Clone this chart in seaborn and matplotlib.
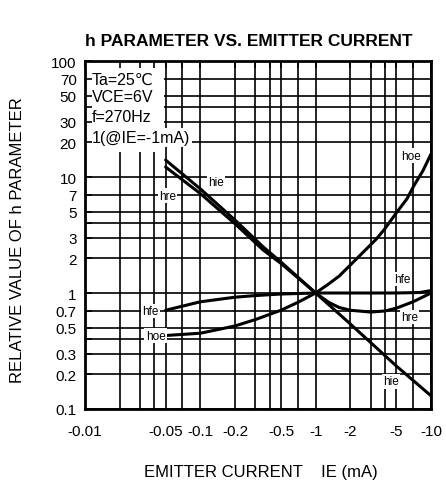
import matplotlib
matplotlib.use("Agg")
import matplotlib.pyplot as plt
import seaborn as sns
from matplotlib.patches import Rectangle
from matplotlib.ticker import FixedLocator, NullFormatter

# |IE| in mA and relative h parameter values (=1 at IE = -1mA)
hie_ie = [0.05, 0.1, 0.2, 0.35, 0.5, 1, 2, 5, 10]
hie_rel = [14, 7.9, 4.25, 2.5, 1.85, 1, 0.54, 0.235, 0.13]

hre_ie = [0.05, 0.1, 0.2, 0.35, 0.5, 1, 1.3, 1.6, 2, 3, 4, 5, 7, 10]
hre_rel = [12.2, 7.2, 3.95, 2.35, 1.8, 1, 0.83, 0.75, 0.71, 0.685, 0.7, 0.74, 0.84, 1.0]

hfe_ie = [0.05, 0.1, 0.2, 0.3, 0.5, 1, 2, 5, 8, 10]
hfe_rel = [0.71, 0.84, 0.92, 0.95, 0.98, 1, 1, 1, 1.01, 1.05]

hoe_ie = [0.05, 0.1, 0.2, 0.3, 0.5, 0.7, 1, 1.3, 1.6, 2.25, 3.36, 4, 5, 6.2, 7.1, 8.5, 10]
hoe_rel = [0.43, 0.45, 0.52, 0.59, 0.71, 0.83, 1, 1.2, 1.4, 1.96, 2.92, 3.6, 4.9, 6.5, 8.4, 11.3, 15.8]

x_ticks = [0.01, 0.05, 0.1, 0.2, 0.5, 1, 2, 5, 10]
x_ticklabels = ["-0.01", "-0.05", "-0.1", "-0.2", "-0.5", "-1", "-2", "-5", "-10"]
y_ticks = [0.1, 0.2, 0.3, 0.5, 0.7, 1, 2, 3, 5, 7, 10, 20, 30, 50, 70, 100]
y_ticklabels = ["0.1", "0.2", "0.3", "0.5", "0.7", "1", "2", "3", "5", "7",
                "10", "20", "30", "50", "70", "100"]
grid_mults = [1, 2, 3, 4, 5, 7]

conditions = ["Ta=25℃", "VCE=6V", "f=270Hz", "1(@IE=-1mA)"]

sns.set_theme(style="white")
plt.rcParams["font.family"] = ["Liberation Sans", "DejaVu Sans"]
plt.rcParams["text.color"] = "black"

fig = plt.figure(figsize=(4.46, 4.89), dpi=100)
ax = fig.add_axes([85 / 446, 1 - 410 / 489, 346 / 446, 348 / 489])
ax.set_xscale("log")
ax.set_yscale("log")
ax.set_xlim(0.01, 10)
ax.set_ylim(0.1, 100)

# grid
gx = [m * 10.0 ** e for e in (-2, -1, 0) for m in grid_mults]
gy = [m * 10.0 ** e for e in (-1, 0, 1) for m in grid_mults]
ax.set_xticks(x_ticks, x_ticklabels)
ax.set_yticks(y_ticks, y_ticklabels)
ax.xaxis.set_minor_locator(FixedLocator(gx))
ax.yaxis.set_minor_locator(FixedLocator(gy))
ax.xaxis.set_minor_formatter(NullFormatter())
ax.yaxis.set_minor_formatter(NullFormatter())
ax.grid(which="both", color="black", lw=1.2)
ax.set_axisbelow(True)
ax.tick_params(which="both", length=0, labelsize=11, colors="black")
ax.tick_params(axis="x", pad=11)
ax.tick_params(axis="y", pad=6)
for s in ax.spines.values():
    s.set_color("black")
    s.set_linewidth(2)

# white area behind the conditions
ax.add_patch(Rectangle((0.0101, 16.5), 0.0485 - 0.0101, 99.5 - 16.5,
                       facecolor="white", edgecolor="none", zorder=1))

for xs, ys in [(hie_ie, hie_rel), (hre_ie, hre_rel), (hfe_ie, hfe_rel), (hoe_ie, hoe_rel)]:
    sns.lineplot(x=xs, y=ys, ax=ax, color="black", lw=2.2, sort=False, estimator=None, zorder=2)

lab = dict(fontsize=8.5, ha="center", va="center", zorder=3,
           bbox=dict(facecolor="white", edgecolor="none", pad=1))
ax.text(6.7, 15.2, "hoe", **lab)
ax.text(0.137, 9.1, "hie", **lab)
ax.text(0.052, 6.9, "hre", **lab)
ax.text(0.037, 0.70, "hfe", **lab)
ax.text(0.041, 0.43, "hoe", **lab)
ax.text(5.6, 1.32, "hfe", **lab)
ax.text(6.5, 0.62, "hre", **lab)
ax.text(4.5, 0.174, "hie", **lab)

for yv, t in zip([70, 49, 33, 22], conditions):
    box = dict(facecolor="white", edgecolor="none", pad=1.5) if t.startswith("1(") else None
    ax.text(0.0115, yv, t, fontsize=11.5, ha="left", va="center", zorder=4, bbox=box)

# inward ticks on top of everything
ov = fig.add_axes(ax.get_position(), sharex=ax, sharey=ax, frameon=False)
ov.patch.set_visible(False)
ov.grid(False)
ov.tick_params(which="both", direction="in", length=5, width=1.2, color="black",
               left=True, top=True, bottom=False, right=False,
               labelleft=False, labelbottom=False)

fig.text(249 / 446, 1 - 42 / 489, "h PARAMETER VS. EMITTER CURRENT",
         fontsize=12.5, fontweight="bold", ha="center", va="center", color="black")
fig.text(18 / 446, 1 - 240 / 489, "RELATIVE VALUE OF h PARAMETER",
         rotation=90, fontsize=12, ha="center", va="center", color="black")
fig.text(261 / 446, 1 - 472 / 489, "EMITTER CURRENT    IE (mA)",
         fontsize=12, ha="center", va="center", color="black")

fig.savefig("out.png", dpi=100)
